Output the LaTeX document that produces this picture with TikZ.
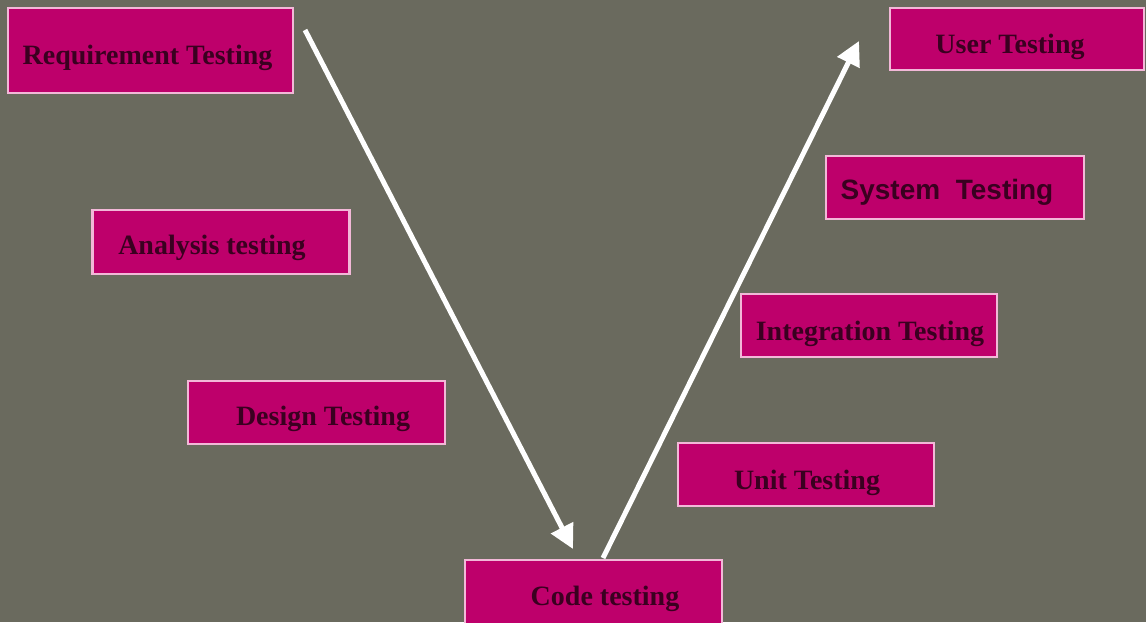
\documentclass[tikz,border=0pt]{standalone}
\usepackage{fontspec}
\setmainfont{Liberation Serif}
\newfontfamily\sysfont{Liberation Sans}
\usetikzlibrary{arrows.meta}
\definecolor{bgcol}{HTML}{6A6A5E}
\definecolor{boxfill}{HTML}{BE006B}
\definecolor{boxline}{HTML}{F2B8D8}
\definecolor{txtcol}{HTML}{3A0020}
\tikzset{
  tbox/.style={draw=boxline, line width=2.5pt, fill=boxfill, rectangle, inner sep=0pt},
  lbl/.style={anchor=base, inner sep=0pt, text=txtcol, font=\fontsize{28}{30}\selectfont\bfseries},
  varrow/.style={draw=white, line width=5pt, -{Triangle[length=24pt,width=24pt]}}
}
\begin{document}
\begin{tikzpicture}[x=1pt,y=-1pt]
\fill[bgcol] (0,0) rectangle (1146,622);
\useasboundingbox (0,0) rectangle (1146,622);
\node[tbox, minimum width=285pt, minimum height=85pt,
  label={[lbl, xshift=-3pt, yshift=-7.5pt]center:Requirement Testing}] (req) at (150.5,50.5) {};
\node[tbox, minimum width=254pt, minimum height=62pt,
  label={[lbl, xshift=-7pt, yshift=-8pt]center:User Testing}] (user) at (1017,39) {};
\node[tbox, minimum width=258pt, minimum height=63pt,
  label={[lbl, font=\fontsize{28}{30}\sysfont\bfseries, xshift=-8pt, yshift=-5pt]center:System\ \ Testing}] (sys) at (955,187.5) {};
\node[tbox, minimum width=257pt, minimum height=64pt,
  label={[lbl, xshift=-9pt, yshift=-6pt]center:Analysis testing}] (ana) at (221,242) {};
\node[tbox, minimum width=256pt, minimum height=63pt,
  label={[lbl, xshift=1pt, yshift=-8.5pt]center:Integration Testing}] (integ) at (869,325.5) {};
\node[tbox, minimum width=257pt, minimum height=63pt,
  label={[lbl, xshift=6.5pt, yshift=-6.5pt]center:Design Testing}] (des) at (316.5,412.5) {};
\node[tbox, minimum width=256pt, minimum height=63pt,
  label={[lbl, xshift=1pt, yshift=-8.5pt]center:Unit Testing}] (unit) at (806,474.5) {};
\node[tbox, minimum width=257pt, minimum height=64pt,
  label={[lbl, xshift=11.5pt, yshift=-7pt]center:Code testing}] (code) at (593.5,592) {};
\coordinate (lstart) at (305,30);
\coordinate (lend) at (573,549);
\coordinate (rstart) at (603,558);
\coordinate (rend) at (859,41);
\draw[varrow] (lstart) -- (lend);
\draw[varrow] (rstart) -- (rend);
\end{tikzpicture}
\end{document}
